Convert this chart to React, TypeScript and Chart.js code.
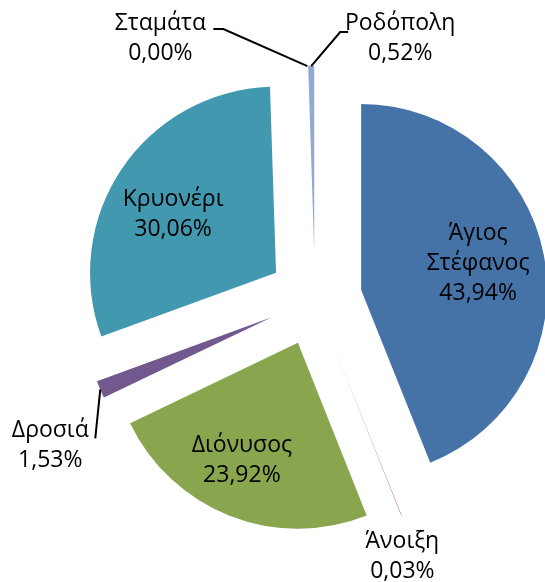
import React, { useEffect, useRef } from 'react';
import { Chart, registerables } from 'chart.js';

Chart.register(...registerables);

// ---- data ----
const categories = ['Άγιος Στέφανος', 'Άνοιξη', 'Διόνυσος', 'Δροσιά', 'Κρυονέρι', 'Σταμάτα', 'Ροδόπολη'];
const shares = [43.94, 0.03, 23.92, 1.53, 30.06, 0.0, 0.52];
const sliceColors = ['#4572A7', '#AA4643', '#89A54E', '#71588F', '#4198AF', '#DB843D', '#93A9CF'];

// ---- layout / style ----
const W = 545;
const H = 582;
const RADIUS = 186;
const EXPLODE = 47;
const FONT = '23px "Open Sans", sans-serif';
const LINE_GAP = 30;
const CAP_HALF = 8;

type Place = { from: 'apex' | 'tip'; dx: number; dy: number; leader?: [number, number][] };
const labelPlaces: Place[] = [
  { from: 'apex', dx: 117, dy: -28 },
  { from: 'tip', dx: 1, dy: 40 },
  { from: 'apex', dx: -56, dy: 116 },
  { from: 'tip', dx: -50, dy: 55, leader: [[-5, 49]] },
  { from: 'apex', dx: -103, dy: -60 },
  { from: 'tip', dx: -147, dy: -29, leader: [[-84, -37], [-94, -37]] },
  { from: 'tip', dx: 89, dy: -29, leader: [[29, -34], [37, -34]] },
];

const fmt = (v: number) => v.toFixed(2).replace('.', ',') + '%';

const explodePlugin = {
  id: 'explodeSlices',
  afterDatasetUpdate(_chart: any, args: any) {
    args.meta.data.forEach((arc: any) => {
      const mid = (arc.startAngle + arc.endAngle) / 2;
      arc.x += Math.cos(mid) * EXPLODE;
      arc.y += Math.sin(mid) * EXPLODE;
    });
  },
};

const labelPlugin = {
  id: 'sliceLabels',
  afterDatasetsDraw(chart: any) {
    const ctx = chart.ctx as CanvasRenderingContext2D;
    const meta = chart.getDatasetMeta(0);
    ctx.save();
    ctx.font = FONT;
    ctx.fillStyle = '#000';
    ctx.textAlign = 'center';
    ctx.textBaseline = 'alphabetic';
    meta.data.forEach((arc: any, i: number) => {
      const p = labelPlaces[i];
      const mid = (arc.startAngle + arc.endAngle) / 2;
      const r = arc.outerRadius;
      const tip = { x: arc.x + Math.cos(mid) * r, y: arc.y + Math.sin(mid) * r };
      const base = p.from === 'apex' ? { x: arc.x, y: arc.y } : tip;
      if (p.leader) {
        ctx.beginPath();
        ctx.moveTo(tip.x, tip.y);
        p.leader.forEach(([lx, ly]) => ctx.lineTo(tip.x + lx, tip.y + ly));
        ctx.strokeStyle = '#000';
        ctx.lineWidth = 2;
        ctx.stroke();
      }
      const lines = [...categories[i].split(' '), fmt(shares[i])];
      const cx = base.x + p.dx;
      const cy = base.y + p.dy;
      lines.forEach((t, k) => {
        const y = cy + (k - (lines.length - 1) / 2) * LINE_GAP + CAP_HALF;
        ctx.fillText(t, cx, y);
      });
    });
    ctx.restore();
  },
};

export default function App() {
  const ref = useRef<HTMLCanvasElement | null>(null);
  useEffect(() => {
    if (!ref.current) return;
    const chart = new Chart(ref.current, {
      type: 'pie',
      data: {
        labels: categories,
        datasets: [
          {
            data: shares,
            backgroundColor: sliceColors,
            borderWidth: 0,
          },
        ],
      },
      options: {
        responsive: false,
        animation: false,
        events: [],
        radius: RADIUS,
        layout: { padding: { left: 85, right: 0, top: 16, bottom: 0 } },
        plugins: { legend: { display: false }, tooltip: { enabled: false } },
      } as any,
      plugins: [explodePlugin, labelPlugin],
    });
    return () => chart.destroy();
  }, []);
  return (
    <div style={{ position: 'absolute', left: 0, top: 0, width: W, height: H, background: '#fff' }}>
      <canvas ref={ref} width={W} height={H} style={{ display: 'block' }} />
    </div>
  );
}
